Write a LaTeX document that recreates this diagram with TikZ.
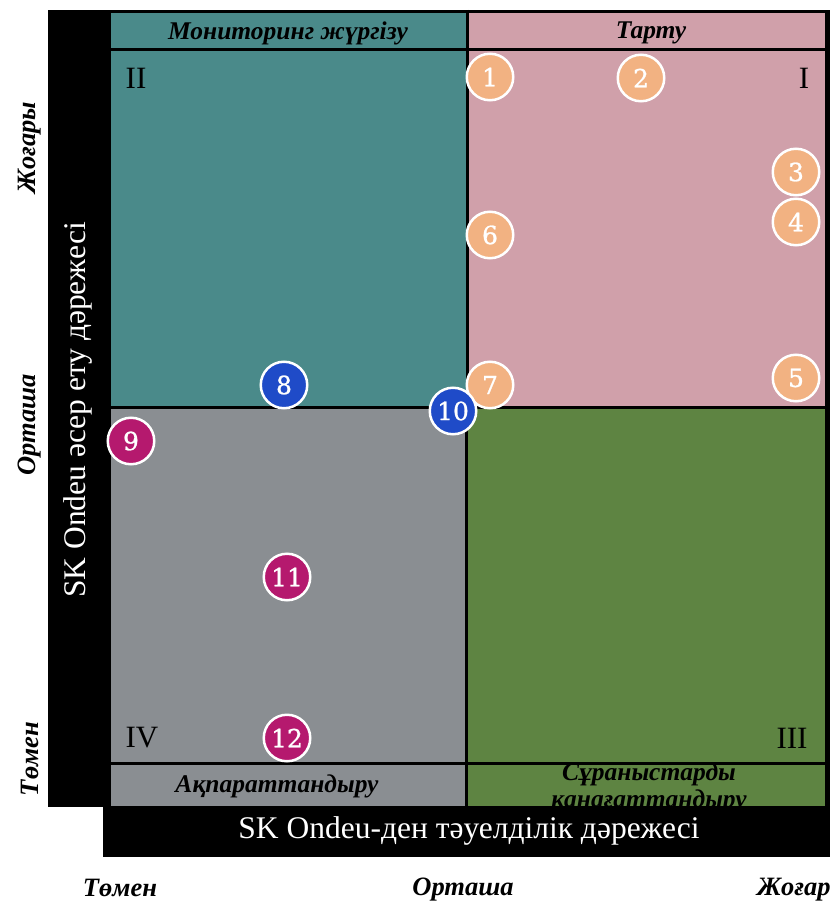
\documentclass[tikz,border=0pt]{standalone}
\usepackage{fontspec}
\setmainfont{Liberation Serif}
\newfontfamily\numfont[FakeBold=1]{DejaVu Serif}
\definecolor{teal}{RGB}{74,138,138}
\definecolor{pinkq}{RGB}{208,160,170}
\definecolor{grayq}{RGB}{138,142,146}
\definecolor{greenq}{RGB}{94,132,66}
\definecolor{orangec}{RGB}{242,178,130}
\definecolor{bluec}{RGB}{31,75,200}
\definecolor{magc}{RGB}{181,25,110}
\tikzset{
  grid/.style={line width=3pt, black},
  lab/.style={inner sep=0, font=\bfseries\itshape\fontsize{25.5}{27}\selectfont},
  ticklab/.style={inner sep=0, font=\bfseries\itshape\fontsize{26.5}{28}\selectfont},
  axislab/.style={inner sep=0, text=white, font=\fontsize{31.5}{36}\selectfont},
  quadlab/.style={inner sep=0, font=\fontsize{31}{36}\selectfont},
  num/.style={circle, draw=white, line width=2.5pt, minimum size=46.5pt, inner sep=0,
    text=white, font=\numfont\fontsize{25}{26}\selectfont},
  orng/.style={num, fill=orangec},
  blu/.style={num, fill=bluec},
  mag/.style={num, fill=magc},
}
\begin{document}
\begin{tikzpicture}[x=1pt,y=-1pt]
\useasboundingbox (0,0) rectangle (830,904);
% quadrants
\fill[teal] (111,10) rectangle (467,407);
\fill[pinkq] (467,10) rectangle (826,407);
\fill[grayq] (111,407) rectangle (467,806);
\fill[greenq] (467,407) rectangle (826,806);
% strip labels
\node[lab] (hmon) at (288,33) {Мониторинг жүргізу};
\node[lab] (htar) at (651,33) {Тарту};
\node[lab] (hakp) at (277,786) {Ақпараттандыру};
\node[lab, align=center] (hsur) at (649,788) {Сұраныстарды\\қанағаттандыру};
% grid lines
\draw[grid] (48,11.5) -- (830,11.5);
\draw[grid] (111,50) -- (826,50);
\draw[grid] (467,10) -- (467,407);
\draw[grid] (466,407) -- (466,806);
\draw[grid] (111,407) -- (826,407);
\draw[grid] (111,763) -- (826,763);
\fill[black] (825,10) rectangle (830,806);
% axis bars
\fill[black] (48,10) rectangle (111,807);
\fill[black] (103,806) rectangle (830,857);
\node[axislab, rotate=90] (yax) at (78,410) {SK Ondeu әсер ету дәрежесі};
\node[axislab] (xax) at (469,831) {SK Ondeu-ден тәуелділік дәрежесі};
% tick labels
\node[ticklab, rotate=90] (yhi) at (30,148) {Жоғары};
\node[ticklab, rotate=90] (ymid) at (30,425) {Орташа};
\node[ticklab, rotate=90] (ylo) at (30,759) {Төмен};
\node[ticklab] (xlo) at (120,888) {Төмен};
\node[ticklab] (xmid) at (463,890) {Орташа};
\node[ticklab] (xhi) at (803,890) {Жоғары};
% quadrant numerals
\node[quadlab] (q2) at (136,78) {II};
\node[quadlab] (q1) at (804,78) {I};
\node[quadlab] (q3) at (792,738) {III};
\node[quadlab] (q4) at (142,738) {IV};
% circles
\node[orng] (c1) at (490,77) {1};
\node[orng] (c2) at (641,78) {2};
\node[orng] (c3) at (796,172) {3};
\node[orng] (c4) at (796,222) {4};
\node[orng] (c5) at (796,378) {5};
\node[orng] (c6) at (490,235) {6};
\node[orng] (c7) at (490,385) {7};
\node[blu] (c8) at (284,385) {8};
\node[mag] (c9) at (131,441) {9};
\node[blu] (c10) at (453,411) {10};
\node[mag] (c11) at (287,577) {11};
\node[mag] (c12) at (287,738) {12};
\end{tikzpicture}
\end{document}
